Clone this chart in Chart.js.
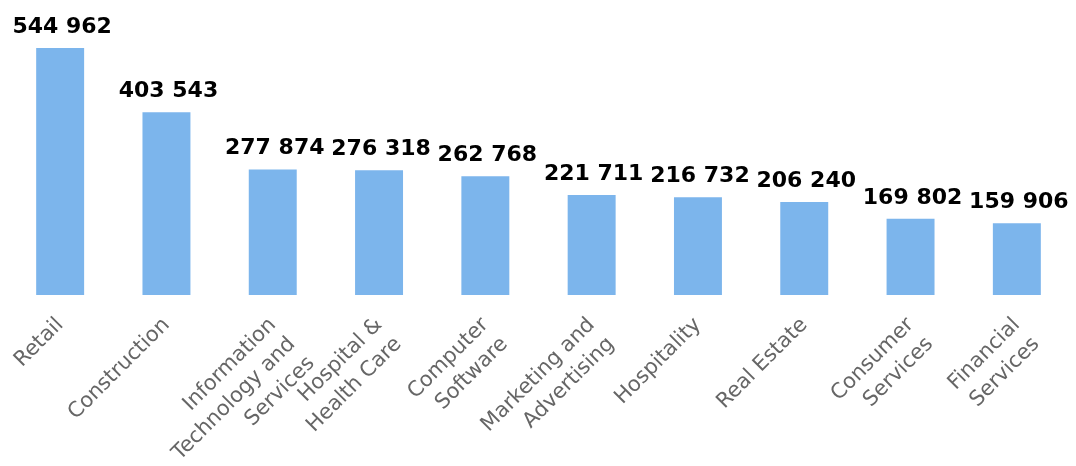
<!DOCTYPE html>
<html>
<head>
<meta charset="utf-8">
<script src="https://cdn.jsdelivr.net/npm/chart.js@4/dist/chart.umd.min.js"></script>
<style>
  html, body { margin: 0; padding: 0; background: #fff; }
  #wrap { width: 1076px; height: 466px; position: relative; }
</style>
</head>
<body>
<div id="wrap"><canvas id="industryChart"></canvas></div>
<script>
const industries = [
    ['Retail'],
    ['Construction'],
    ['Information', 'Technology and', 'Services'],
    ['Hospital &', 'Health Care'],
    ['Computer', 'Software'],
    ['Marketing and', 'Advertising'],
    ['Hospitality'],
    ['Real Estate'],
    ['Consumer', 'Services'],
    ['Financial', 'Services']
];
const companies = [544962, 403543, 277874, 276318, 262768, 221711, 216732, 206240, 169802, 159906];

const fmt = v => String(v).replace(/\B(?=(\d{3})+(?!\d))/g, ' ');

// value printed above each bar
const barValues = {
    id: 'barValues',
    afterDatasetsDraw(c) {
        const ctx = c.ctx;
        const meta = c.getDatasetMeta(0);
        ctx.save();
        ctx.font = 'bold 22px "DejaVu Sans"';
        ctx.fillStyle = '#000';
        ctx.textAlign = 'center';
        ctx.textBaseline = 'alphabetic';
        meta.data.forEach((bar, i) => {
            ctx.fillText(fmt(companies[i]), bar.x + 2, bar.y - 14);
        });
        ctx.restore();
    }
};

chart = new Chart(document.getElementById('industryChart'), {
    type: 'bar',
    data: {
        labels: industries,
        datasets: [{
            data: companies,
            backgroundColor: '#7cb5ec',
            borderColor: '#ffffff',
            borderWidth: 1,
            categoryPercentage: 1,
            barPercentage: 0.47
        }]
    },
    options: {
        responsive: true,
        maintainAspectRatio: false,
        animation: false,
        layout: { padding: { left: 7, right: 6, top: 10, bottom: 0 } },
        plugins: { legend: { display: false }, tooltip: { enabled: false } },
        scales: {
            x: {
                grid: { display: false, drawTicks: false },
                border: { display: false },
                ticks: {
                    color: '#666666',
                    font: { family: '"DejaVu Sans"', size: 21, lineHeight: 1.3 },
                    minRotation: 45,
                    maxRotation: 45,
                    padding: 17,
                    autoSkip: false
                },
                afterFit(scale) { scale.height = 171; }
            },
            y: {
                display: false,
                min: 0,
                max: 626000
            }
        }
    },
    plugins: [barValues]
});
</script>
</body>
</html>
